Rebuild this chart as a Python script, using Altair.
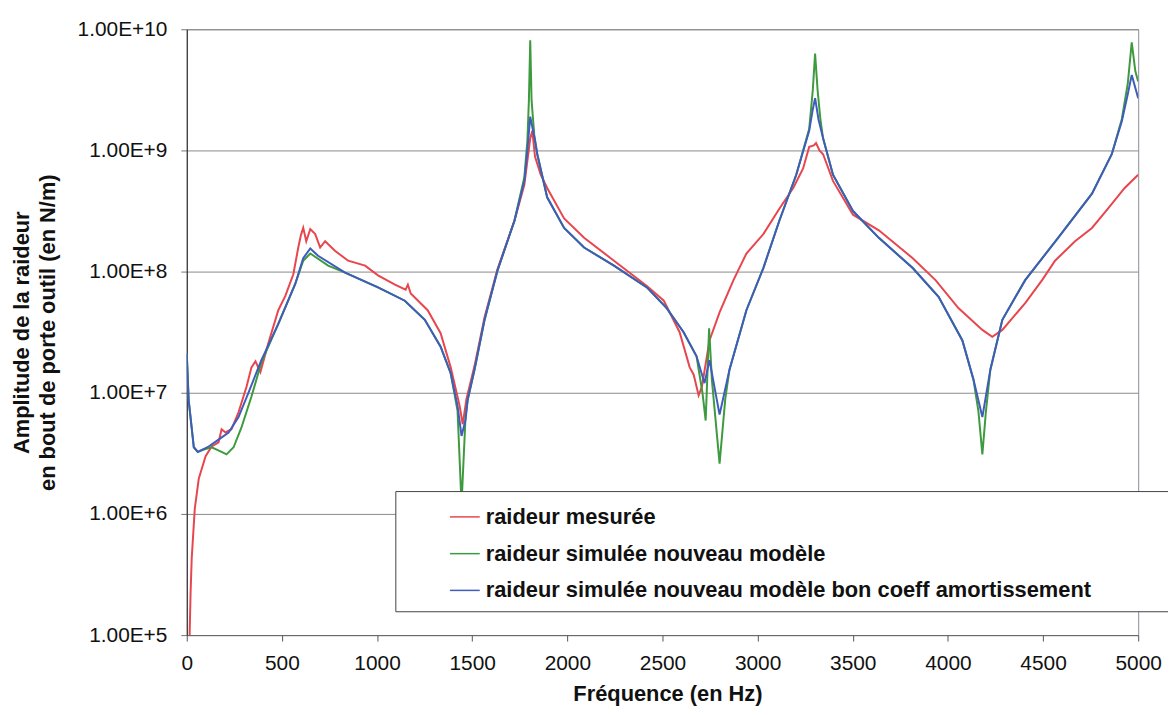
import altair as alt
import pandas as pd

# ---------------- data ----------------
series_names = [
    "raideur mesurée",
    "raideur simulée  nouveau modèle",
    "raideur simulée nouveau modèle bon coeff amortissement",
]
series_colors = ["#e8464e", "#3e9a3e", "#3f5cbd"]

freq_mesure = [15, 20, 26, 42, 63, 99, 131, 167, 183, 204, 235, 272, 314, 340, 361, 387,
               429, 481, 518, 560, 586, 600, 612, 628, 649, 675, 701, 727, 780, 848, 937,
               1005, 1094, 1150, 1162, 1177, 1266, 1334, 1387, 1434, 1450, 1470, 1512,
               1565, 1633, 1722, 1774, 1805, 1816, 1830, 1860, 1894, 1983, 2088, 2245,
               2418, 2507, 2590, 2643, 2664, 2690, 2707, 2747, 2800, 2873, 2941, 3030,
               3114, 3187, 3239, 3271, 3295, 3307, 3325, 3344, 3396, 3501, 3637, 3815,
               3935, 4055, 4181, 4233, 4286, 4406, 4495, 4563, 4668, 4757, 4840, 4929, 5000]
amp_mesure = [1.0e5, 2.2e5, 4.3e5, 1.1e6, 1.95e6, 3.0e6, 3.6e6, 3.9e6, 5.0e6, 4.7e6,
              5.0e6, 6.9e6, 1.12e7, 1.62e7, 1.82e7, 1.48e7, 2.57e7, 4.8e7, 6.3e7, 9.5e7,
              1.58e8, 2.0e8, 2.3e8, 1.78e8, 2.24e8, 2.04e8, 1.58e8, 1.78e8, 1.48e8, 1.23e8,
              1.12e8, 9.3e7, 7.8e7, 7.1e7, 7.8e7, 6.6e7, 4.8e7, 3.1e7, 1.62e7, 7.8e6,
              5.5e6, 8.9e6, 1.66e7, 4.2e7, 1.05e8, 2.63e8, 5.2e8, 1.26e9, 1.45e9, 8.9e8,
              6.3e8, 4.9e8, 2.75e8, 1.9e8, 1.23e8, 7.6e7, 5.75e7, 3.16e7, 1.62e7, 1.41e7,
              9.5e6, 1.12e7, 2.7e7, 4.6e7, 8.5e7, 1.41e8, 2.04e8, 3.3e8, 4.9e8, 7.1e8,
              1.07e9, 1.1e9, 1.15e9, 1.0e9, 9.3e8, 5.6e8, 2.95e8, 2.19e8, 1.29e8, 8.5e7,
              5.0e7, 3.3e7, 2.9e7, 3.3e7, 5.5e7, 8.5e7, 1.23e8, 1.78e8, 2.29e8, 3.3e8,
              4.9e8, 6.3e8]

freq_nouveau = [0, 10, 37, 58, 90, 131, 183, 209, 246, 288, 340, 392, 481, 570, 612, 649,
                743, 832, 1005, 1146, 1251, 1334, 1387, 1423, 1444, 1465, 1476, 1512, 1565,
                1633, 1722, 1774, 1790, 1798, 1805, 1812, 1826, 1842, 1894, 1983, 2088,
                2245, 2418, 2522, 2611, 2679, 2710, 2727, 2745, 2760, 2800, 2830, 2852,
                2941, 3030, 3114, 3203, 3271, 3290, 3302, 3315, 3330, 3344, 3396, 3501,
                3637, 3815, 3951, 4076, 4134, 4160, 4181, 4200, 4223, 4286, 4406, 4579,
                4757, 4861, 4914, 4945, 4966, 4985, 5000]
amp_nouveau = [2.1e7, 8.7e6, 3.55e6, 3.25e6, 3.4e6, 3.55e6, 3.25e6, 3.1e6, 3.55e6, 5.2e6,
               9.3e6, 1.78e7, 3.7e7, 7.9e7, 1.23e8, 1.41e8, 1.12e8, 9.8e7, 7.4e7, 5.75e7,
               4.0e7, 2.4e7, 1.45e7, 7.1e6, 1.2e6, 6.3e6, 8.7e6, 1.55e7, 4.0e7, 1.02e8,
               2.63e8, 6.0e8, 1.2e9, 2.6e9, 8.1e9, 2.6e9, 1.35e9, 9.3e8, 4.1e8, 2.29e8,
               1.58e8, 1.12e8, 7.4e7, 5.0e7, 3.16e7, 2.0e7, 1.0e7, 5.9e6, 3.4e7, 1.26e7,
               2.6e6, 8.9e6, 1.55e7, 4.8e7, 1.07e8, 2.63e8, 6.3e8, 1.51e9, 3.16e9, 6.3e9,
               3.16e9, 1.8e9, 1.26e9, 6.3e8, 3.16e8, 1.9e8, 1.07e8, 6.2e7, 2.7e7, 1.29e7,
               7.1e6, 3.1e6, 7.1e6, 1.55e7, 4.0e7, 8.5e7, 1.9e8, 4.4e8, 9.3e8, 1.82e9,
               3.55e9, 7.8e9, 4.5e9, 3.7e9]

freq_bon = [0, 10, 37, 58, 115, 167, 220, 272, 324, 392, 481, 570, 612, 649, 690, 832,
            1005, 1146, 1251, 1334, 1387, 1423, 1444, 1465, 1476, 1512, 1565, 1633, 1722,
            1774, 1790, 1805, 1826, 1842, 1894, 1983, 2088, 2245, 2418, 2522, 2611, 2679,
            2721, 2747, 2800, 2852, 2941, 3030, 3114, 3203, 3271, 3288, 3302, 3320, 3344,
            3396, 3501, 3637, 3815, 3951, 4076, 4134, 4181, 4223, 4286, 4406, 4579, 4757,
            4861, 4914, 4945, 4966, 5000]
amp_bon = [2.1e7, 8.7e6, 3.55e6, 3.25e6, 3.6e6, 4.1e6, 4.7e6, 6.3e6, 1.0e7, 1.86e7, 3.7e7,
           7.9e7, 1.29e8, 1.55e8, 1.35e8, 9.8e7, 7.4e7, 5.75e7, 4.0e7, 2.4e7, 1.45e7,
           7.8e6, 4.4e6, 6.0e6, 8.7e6, 1.55e7, 4.0e7, 1.02e8, 2.63e8, 5.6e8, 1.0e9, 1.9e9,
           1.3e9, 9.3e8, 4.1e8, 2.29e8, 1.58e8, 1.12e8, 7.4e7, 5.0e7, 3.16e7, 2.0e7,
           1.2e7, 1.86e7, 6.6e6, 1.55e7, 4.8e7, 1.07e8, 2.63e8, 6.3e8, 1.45e9, 2.1e9,
           2.7e9, 1.8e9, 1.26e9, 6.3e8, 3.16e8, 1.9e8, 1.07e8, 6.2e7, 2.7e7, 1.29e7,
           6.3e6, 1.55e7, 4.0e7, 8.5e7, 1.9e8, 4.4e8, 9.3e8, 1.74e9, 2.9e9, 4.2e9, 2.7e9]

y_tick_values = [1e5, 1e6, 1e7, 1e8, 1e9, 1e10]
x_tick_values = [0, 500, 1000, 1500, 2000, 2500, 3000, 3500, 4000, 4500, 5000]

# ---------------- table ----------------
rows = []
for name, fs, amps in zip(series_names,
                          [freq_mesure, freq_nouveau, freq_bon],
                          [amp_mesure, amp_nouveau, amp_bon]):
    for f, a in zip(fs, amps):
        rows.append({"serie": name, "freq": f, "amp": a})
df = pd.DataFrame(rows)

FONT = "Liberation Sans"
# invisible trailing padding (NBSPs kept from trimming by a zero-width space)
LEGEND_PAD = "\u00a0" * 11 + "\u200b"

color = alt.Color(
    "serie:N",
    scale=alt.Scale(domain=series_names, range=series_colors),
    legend=alt.Legend(
        title=None,
        orient="none",
        legendX=210,
        legendY=465,
        direction="vertical",
        strokeColor="#444444",
        fillColor="white",
        padding=10,
        symbolType="stroke",
        symbolSize=900,
        symbolStrokeWidth=1.5,
        symbolOffset=44,
        labelOffset=5,
        labelFont=FONT,
        labelFontSize=22,
        labelFontWeight="bold",
        labelColor="#111111",
        labelLimit=0,
        labelExpr="datum.label + '" + LEGEND_PAD + "'",
        rowPadding=10,
    ),
)

x = alt.X(
    "freq:Q",
    scale=alt.Scale(domain=[0, 5000], nice=False, zero=False),
    axis=alt.Axis(
        values=x_tick_values,
        format="d",
        grid=False,
        title="Fréquence (en Hz)",
        titleFont=FONT,
        titleFontSize=22,
        titleFontWeight="bold",
        titleColor="#111111",
        titleX=484,
        titleY=59,
        titleBaseline="middle",
        titleAlign="center",
        labelFont=FONT,
        labelFontSize=21,
        labelColor="#111111",
        labelPadding=12,
        tickSize=6,
        tickColor="#555555",
        domainColor="#666666",
        labelFlush=False,
    ),
)

y = alt.Y(
    "amp:Q",
    scale=alt.Scale(type="log", domain=[1e5, 1e10], nice=False),
    axis=alt.Axis(
        values=y_tick_values,
        labelExpr="replace(format(datum.value, '.2e'), 'e', 'E')",
        grid=True,
        gridColor="#8a8a8a",
        gridWidth=1,
        title=["Amplitude de la raideur", "en bout de porte outil (en N/m)"],
        titleFont=FONT,
        titleFontSize=22,
        titleFontWeight="bold",
        titleColor="#111111",
        titleAngle=270,
        titleX=-166,
        titleY=305,
        titleAlign="center",
        titleBaseline="middle",
        titleLineHeight=26,
        labelFont=FONT,
        labelFontSize=21,
        labelColor="#111111",
        labelPadding=14,
        tickSize=6,
        tickColor="#777777",
        domainColor="#222222",
        labelFlush=False,
    ),
)

layers = []
for name in series_names:
    layers.append(
        alt.Chart(df)
        .transform_filter(alt.datum.serie == name)
        .mark_line(strokeWidth=2, clip=True)
        .encode(x=x, y=y, color=color, order="freq:Q")
    )

chart = (
    alt.layer(*layers)
    .properties(
        width=958,
        height=610,
        autosize=alt.AutoSizeParams(type="none"),
        padding={"left": 180, "top": 19, "right": 30, "bottom": 70},
        background="white",
    )
    .configure_view(stroke="#8c8c9c", strokeWidth=1)
)

chart.save("out.html", embed_options={"renderer": "svg", "actions": False})
